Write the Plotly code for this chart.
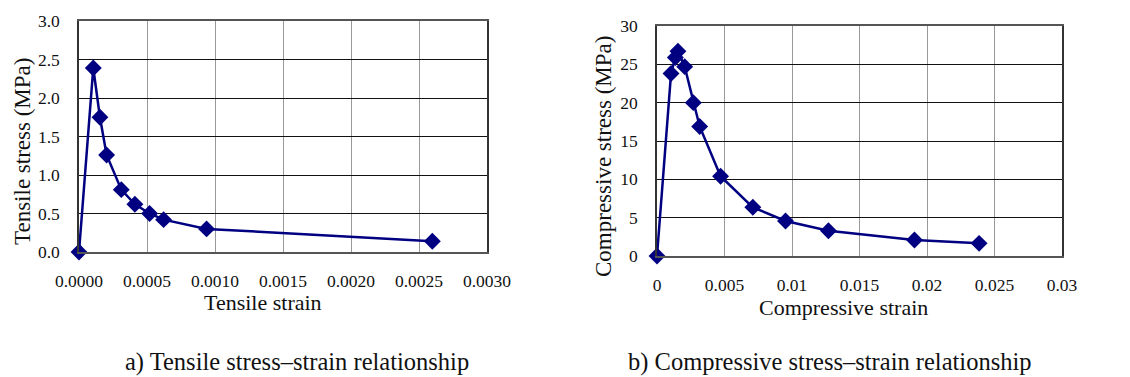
import plotly.graph_objects as go

# Tensile data
tensile_strain = [0.0, 0.000105, 0.000154, 0.000203, 0.000311, 0.000411, 0.000519, 0.000622, 0.000938, 0.002598]
tensile_stress = [0.0, 2.39, 1.75, 1.26, 0.81, 0.62, 0.50, 0.42, 0.30, 0.14]

# Compressive data
comp_strain = [0.0, 0.00104, 0.00136, 0.00155, 0.00205, 0.00269, 0.00316, 0.00471, 0.0071, 0.00952, 0.0127, 0.01907, 0.02386]
comp_stress = [0.0, 23.8, 25.9, 26.7, 24.7, 20.0, 16.9, 10.4, 6.35, 4.57, 3.30, 2.09, 1.65]

tensile_xticks = [0, 0.0005, 0.0010, 0.0015, 0.0020, 0.0025, 0.0030]
tensile_xlabels = ["0.0000", "0.0005", "0.0010", "0.0015", "0.0020", "0.0025", "0.0030"]
tensile_yticks = [0, 0.5, 1.0, 1.5, 2.0, 2.5, 3.0]
tensile_ylabels = ["0.0", "0.5", "1.0", "1.5", "2.0", "2.5", "3.0"]
comp_xticks = [0, 0.005, 0.01, 0.015, 0.02, 0.025, 0.03]
comp_xlabels = ["0", "0.005", "0.01", "0.015", "0.02", "0.025", "0.03"]
comp_yticks = [0, 5, 10, 15, 20, 25, 30]
comp_ylabels = ["0", "5", "10", "15", "20", "25", "30"]

# The page body has an 8px default margin, so the figure is sized/positioned to compensate.
OFF = 8
W, H = 1130 - OFF, 377 - OFF
FONT = "Liberation Serif"
NAVY = "#000080"

fig = go.Figure()
fig.add_trace(go.Scatter(x=tensile_strain, y=tensile_stress, mode="lines+markers",
                         line=dict(color=NAVY, width=2.5),
                         marker=dict(symbol="diamond", size=13, color=NAVY),
                         xaxis="x", yaxis="y", showlegend=False, cliponaxis=False))
fig.add_trace(go.Scatter(x=comp_strain, y=comp_stress, mode="lines+markers",
                         line=dict(color=NAVY, width=2.5),
                         marker=dict(symbol="diamond", size=13, color=NAVY),
                         xaxis="x2", yaxis="y2", showlegend=False, cliponaxis=False))

def px_x(p):
    return (p - OFF) / W

def px_y(p):
    return 1 - (p - OFF) / H

tick_font = dict(family=FONT, size=17.5, color="#111111")
common_x = dict(showline=True, linecolor="#555555", linewidth=1.5, mirror=True,
                showgrid=True, gridcolor="#999999", gridwidth=1.2, automargin=False,
                zeroline=False, tickfont=tick_font, ticks="", ticklabelstandoff=12, fixedrange=True)
common_y = dict(showline=True, linecolor="#333333", linewidth=1.5, mirror=True,
                showgrid=True, gridcolor="#111111", gridwidth=1, automargin=False,
                zeroline=False, tickfont=tick_font, ticks="", ticklabelstandoff=14, fixedrange=True)

fig.update_layout(
    width=W, height=H,
    margin=dict(l=0, r=0, t=0, b=0),
    paper_bgcolor="white", plot_bgcolor="white",
    xaxis=dict(domain=[px_x(79), px_x(487)], range=[0, 0.003], anchor="y",
               tickvals=tensile_xticks, ticktext=tensile_xlabels, **common_x),
    yaxis=dict(domain=[px_y(252), px_y(21)], range=[0, 3.0], anchor="x",
               tickvals=tensile_yticks, ticktext=tensile_ylabels, **common_y),
    xaxis2=dict(domain=[px_x(657), px_x(1062)], range=[0, 0.03], anchor="y2",
                tickvals=comp_xticks, ticktext=comp_xlabels, **common_x),
    yaxis2=dict(domain=[px_y(256), px_y(26)], range=[0, 30], anchor="x2",
                tickvals=comp_yticks, ticktext=comp_ylabels, **common_y),
)

xt_font = dict(family=FONT, size=22, color="#111111")
yt_font = dict(family=FONT, size=23, color="#111111")
cap_font = dict(family=FONT, size=24.5, color="#111111")
ann = [
    dict(text="Tensile strain", x=px_x(263), y=px_y(302), font=xt_font),
    dict(text="Tensile stress (MPa)", x=px_x(22), y=px_y(152), font=yt_font, textangle=-90),
    dict(text="Compressive strain", x=px_x(843), y=px_y(307), font=xt_font),
    dict(text="Compressive stress (MPa)", x=px_x(603), y=px_y(157), font=yt_font, textangle=-90),
    dict(text="a) Tensile stress\u2013strain relationship", x=px_x(297), y=px_y(362), font=cap_font),
    dict(text="b) Compressive stress\u2013strain relationship", x=px_x(830), y=px_y(362), font=cap_font),
]
for a in ann:
    fig.add_annotation(xref="paper", yref="paper", xanchor="center", yanchor="middle",
                       showarrow=False, **a)

fig.write_html("out.html")
